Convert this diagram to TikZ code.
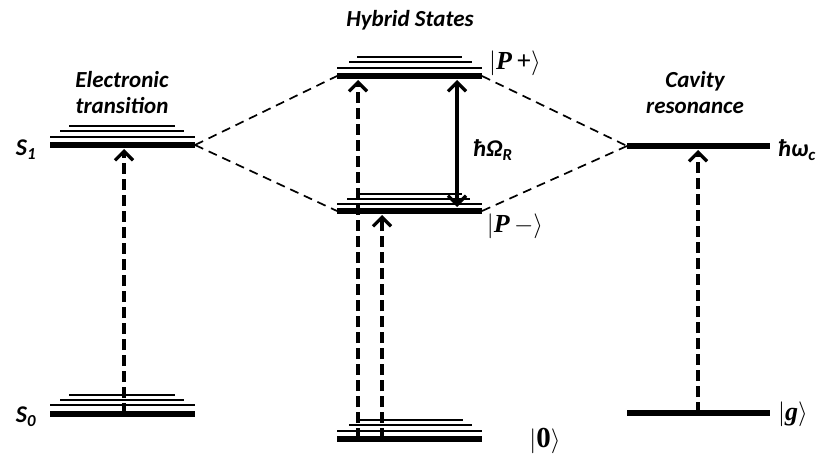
\documentclass[tikz,border=0pt]{standalone}
\usepackage{fontspec}
\usetikzlibrary{arrows.meta}
\newfontfamily\lblfont{Carlito}
\newfontfamily\ketfont{Liberation Serif}
\newcommand{\ket}[1]{{\ketfont\fontsize{26}{28}\selectfont$\vert$\textbf{\textit{#1}}$\rangle$}}

\begin{document}
\begin{tikzpicture}[x=1pt, y=-1pt, >={Straight Barb[length=9pt,width=18pt,line width=3.2pt]},
		lev/.style={line width=6.5pt},
		sub/.style={line width=1.8pt},
		exc/.style={->, line width=3.8pt, dash pattern=on 11pt off 5pt},
		rabi/.style={<->, line width=3.4pt},
		link/.style={line width=1.7pt, dash pattern=on 9pt off 6pt},
		head/.style={font=\lblfont\fontsize{23}{26}\selectfont\bfseries\itshape, align=center},
		lbl/.style={font=\lblfont\fontsize{24}{26}\selectfont\bfseries\itshape}]
			% Rahmen
			\useasboundingbox (0,0) rectangle (822,457);
			% Elektronische Niveaus
			\foreach \y/\a/\b in {126/69/175, 131/60/184, 137/50/195, 395/69/175, 400/60/184, 405/50/195}
				\draw[sub] (\a,\y) -- (\b,\y);
			\draw[lev] (50,145) coordinate (S1l) -- (195,145) coordinate (S1r);
			\draw[lev] (50,414) coordinate (S0l) -- (195,414) coordinate (S0r);
			% Hybridzustaende
			\foreach \y/\a/\b in {57/357/462, 62/349/472, 68/337/482, 194/357/462, 199/347/470, 204/337/482, 420/357/463, 425/349/472, 431/337/482}
				\draw[sub] (\a,\y) -- (\b,\y);
			\draw[lev] (337,76) coordinate (Ppl) -- (482,76) coordinate (Ppr);
			\draw[lev] (337,211) coordinate (Pml) -- (482,211) coordinate (Pmr);
			\draw[lev] (337,439) coordinate (Gl) -- (482,439) coordinate (Gr);
			% Kavitaet
			\draw[lev] (627,146) coordinate (Cl) -- (770,146) coordinate (Cr);
			\draw[lev] (627,413) coordinate (gl) -- (770,413) coordinate (gr);
			% Verbindungslinien
			\draw[link] (S1r) -- (Ppl);
			\draw[link] (S1r) -- (Pml);
			\draw[link] (Ppr) -- (Cl);
			\draw[link] (Pmr) -- (Cl);
			% Uebergaenge
			\coordinate (a0) at (124,414); \coordinate (a1) at (124,149);
			\coordinate (b0) at (358,439); \coordinate (b1) at (358,80);
			\coordinate (c0) at (382,439); \coordinate (c1) at (382,215);
			\coordinate (d0) at (457,80);  \coordinate (d1) at (457,207);
			\coordinate (e0) at (698,413); \coordinate (e1) at (698,150);
			\draw[exc] (a0) -- (a1);
			\draw[exc] (b0) -- (b1);
			\draw[exc] (c0) -- (c1);
			\draw[rabi] (d0) -- (d1);
			\draw[exc] (e0) -- (e1);
			% Beschriftung
			\node[head] (elec) at (122,93) {Electronic\\transition};
			\node[head] (hyb) at (410,20) {Hybrid States};
			\node[head] (cav) at (695,93) {Cavity\\resonance};
			\node[lbl] (s1) at (26,150) {S\textsubscript{1}};
			\node[lbl] (s0) at (26,417) {S\textsubscript{0}};
			\node[lbl] (rabiL) at (493,150) {ħΩ\textsubscript{R}};
			\node[lbl] (wc) at (797,150) {ħω\textsubscript{c}};
			\node (pp) at (515,63) {\ket{P\,+}};
			\node (pm) at (515,226) {\ket{P\,$-$}};
			\node (g0) at (545,441) {{\ketfont\fontsize{29}{30}\selectfont$\vert$\textbf{0}$\rangle$}};
			\node (gg) at (793,414) {\ket{g}};
		\end{tikzpicture}
\end{document}
